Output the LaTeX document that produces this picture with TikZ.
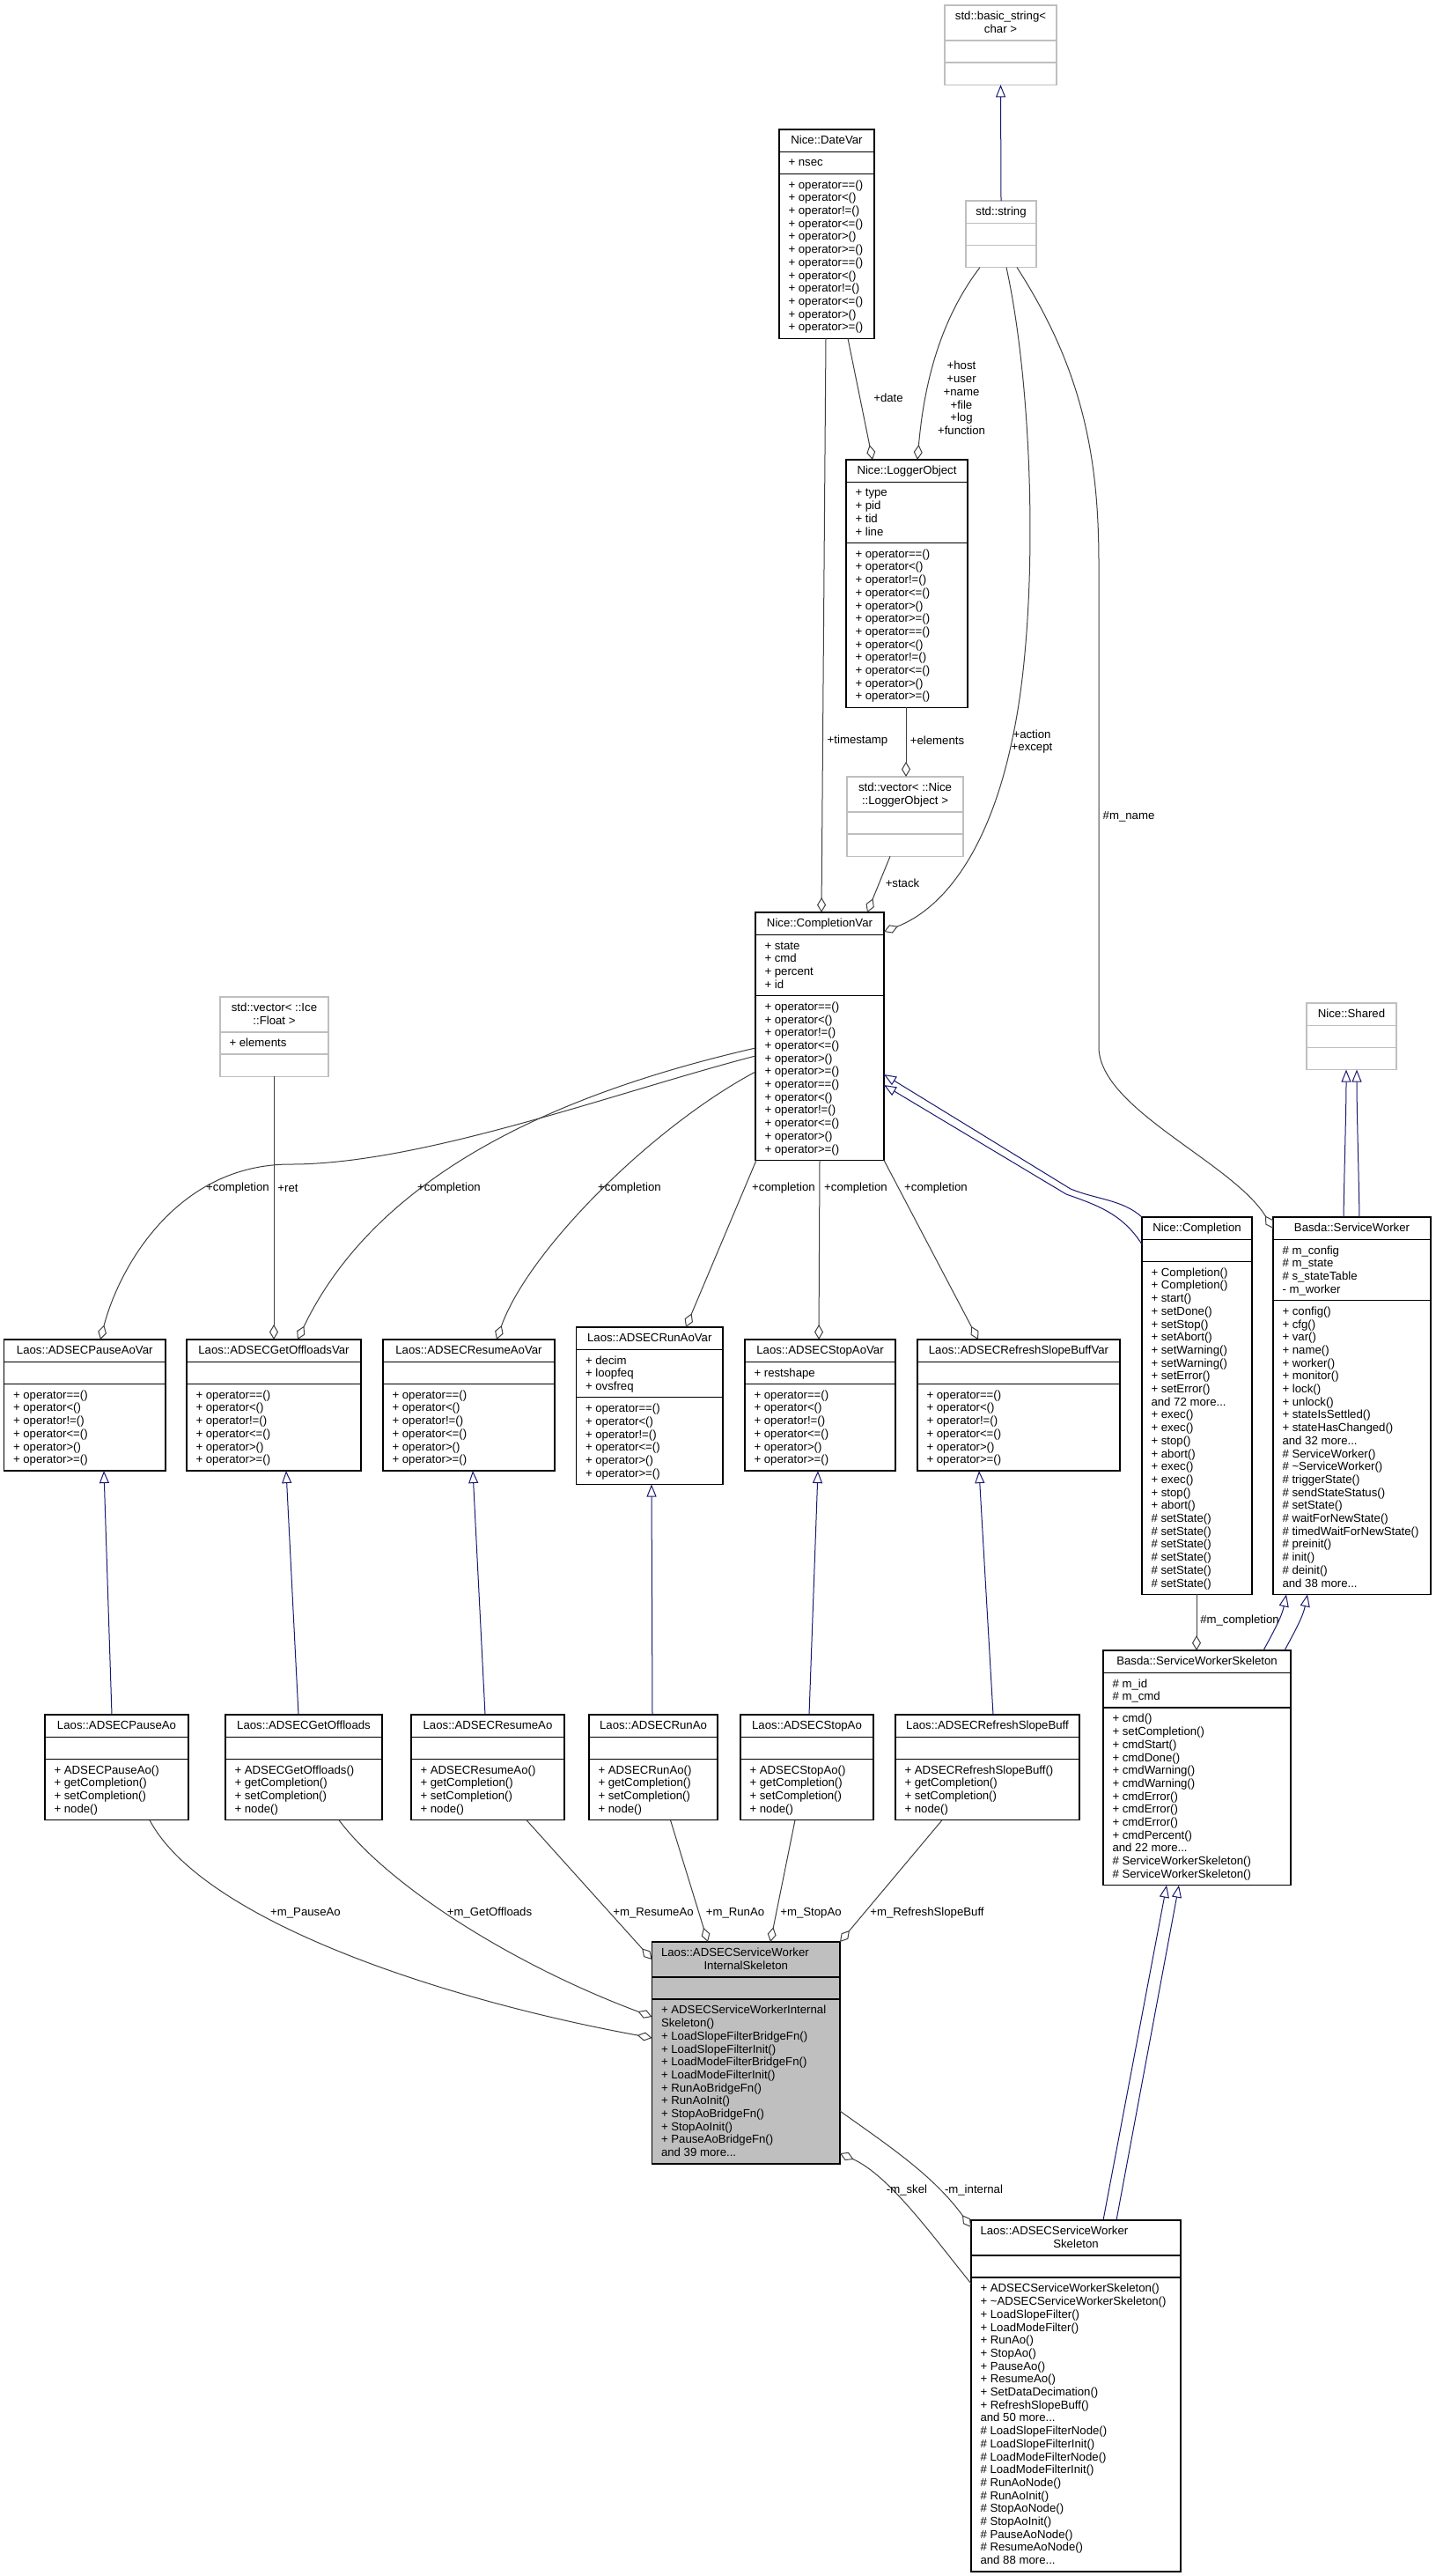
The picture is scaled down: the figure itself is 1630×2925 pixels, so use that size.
\documentclass[tikz,border=0pt]{standalone}
\usepackage{fontspec}
\setmainfont{Liberation Sans}
\usetikzlibrary{arrows.meta}
\definecolor{extgray}{HTML}{BFBFBF}
\definecolor{maingray}{HTML}{BFBFBF}
\definecolor{edgegray}{HTML}{404040}
\definecolor{navy}{HTML}{191970}
\newcommand\umlbox[8]{%
 \pgfmathsetmacro\hT{max(25.2,10.5+14.7*#6)}%
 \pgfmathsetmacro\hA{max(25.2,10.5+14.7*#7)}%
 \pgfmathsetmacro\hM{max(25.2,10.5+14.7*#8)}%
 \pgfmathsetmacro\hH{\hT+\hA+\hM}%
 \node[#2, rectangle, inner sep=0pt, outer sep=0pt, minimum width=#5pt, minimum height=\hH pt, anchor=north west] (#1) at (#3,#4) {};
 \draw[#2, fill=none] ({#3},{#4+\hT}) -- ++(#5,0);
 \draw[#2, fill=none] ({#3},{#4+\hT+\hA}) -- ++(#5,0);
 \node[txt, anchor=north, align=center] (#1-t) at ({#3+#5/2},{#4+6.5}) {\strut\Ttitle};
 \node[txt, anchor=north west, align=left] (#1-a) at ({#3+10.5},{#4+\hT+6.5}) {\strut\Tattr};
 \node[txt, anchor=north west, align=left] (#1-m) at ({#3+10.5},{#4+\hT+\hA+6.5}) {\strut\Tmeth};
}
\begin{document}
\begin{tikzpicture}[x=1pt,y=-1pt,
 txt/.style={inner sep=0pt, outer sep=0pt, font=\fontsize{13.2}{14.7}\selectfont, text=black},
 lbl/.style={txt, align=center},
 cls/.style={draw=black, fill=white, line width=1.3pt},
 ext/.style={draw=extgray, fill=white, line width=1.3pt},
 mainc/.style={draw=black, fill=maingray, line width=1.3pt},
 agg/.style={draw=edgegray, line width=1pt, -{Diamond[open, length=17pt, width=10pt, line width=1pt]}},
 inh/.style={draw=navy, line width=1pt, -{Triangle[open, length=14pt, width=11pt, line width=1pt]}}]
\fill[white] (0,0) rectangle (1630,2925);
\useasboundingbox (0,0) rectangle (1630,2925);
\def\opsTwelve{+ operator==()\\+ operator<()\\+ operator!=()\\+ operator<=()\\+ operator>()\\+ operator>=()\\+ operator==()\\+ operator<()\\+ operator!=()\\+ operator<=()\\+ operator>()\\+ operator>=()}
\def\opsSix{+ operator==()\\+ operator<()\\+ operator!=()\\+ operator<=()\\+ operator>()\\+ operator>=()}
% top classes
\def\Ttitle{std::basic\_string<\\char >}\def\Tattr{}\def\Tmeth{}
\umlbox{basic}{ext}{1073}{6}{127}{2}{0}{0}
\def\Ttitle{std::string}\def\Tattr{}\def\Tmeth{}
\umlbox{str}{ext}{1097}{228}{80}{1}{0}{0}
\def\Ttitle{Nice::DateVar}\def\Tattr{+ nsec}\def\Tmeth{\opsTwelve}
\umlbox{datevar}{cls}{885}{147}{108}{1}{1}{12}
\def\Ttitle{Nice::LoggerObject}\def\Tattr{+ type\\+ pid\\+ tid\\+ line}\def\Tmeth{\opsTwelve}
\umlbox{logger}{cls}{961}{522}{138}{1}{4}{12}
\def\Ttitle{std::vector< ::Nice\\::LoggerObject >}\def\Tattr{}\def\Tmeth{}
\umlbox{veclog}{ext}{962}{882}{132}{2}{0}{0}
\def\Ttitle{std::vector< ::Ice\\::Float >}\def\Tattr{+ elements}\def\Tmeth{}
\umlbox{vecflt}{ext}{250}{1132}{123}{2}{1}{0}
\def\Ttitle{Nice::CompletionVar}\def\Tattr{+ state\\+ cmd\\+ percent\\+ id}\def\Tmeth{\opsTwelve}
\umlbox{cvar}{cls}{858}{1036}{146}{1}{4}{12}
\def\Ttitle{Nice::Shared}\def\Tattr{}\def\Tmeth{}
\umlbox{shared}{ext}{1484}{1139}{102}{1}{0}{0}
\def\Ttitle{Nice::Completion}\def\Tattr{}\def\Tmeth{+ Completion()\\+ Completion()\\+ start()\\+ setDone()\\+ setStop()\\+ setAbort()\\+ setWarning()\\+ setWarning()\\+ setError()\\+ setError()\\and 72 more...\\+ exec()\\+ exec()\\+ stop()\\+ abort()\\+ exec()\\+ exec()\\+ stop()\\+ abort()\\\# setState()\\\# setState()\\\# setState()\\\# setState()\\\# setState()\\\# setState()}
\umlbox{compl}{cls}{1297}{1382}{125}{1}{0}{25}
\def\Ttitle{Basda::ServiceWorker}\def\Tattr{\# m\_config\\\# m\_state\\\# s\_stateTable\\- m\_worker}\def\Tmeth{+ config()\\+ cfg()\\+ var()\\+ name()\\+ worker()\\+ monitor()\\+ lock()\\+ unlock()\\+ stateIsSettled()\\+ stateHasChanged()\\and 32 more...\\\# ServiceWorker()\\\# \textasciitilde ServiceWorker()\\\# triggerState()\\\# sendStateStatus()\\\# setState()\\\# waitForNewState()\\\# timedWaitForNewState()\\\# preinit()\\\# init()\\\# deinit()\\and 38 more...}
\umlbox{sw}{cls}{1446}{1382}{179}{1}{4}{22}
\def\Ttitle{Basda::ServiceWorkerSkeleton}\def\Tattr{\# m\_id\\\# m\_cmd}\def\Tmeth{+ cmd()\\+ setCompletion()\\+ cmdStart()\\+ cmdDone()\\+ cmdWarning()\\+ cmdWarning()\\+ cmdError()\\+ cmdError()\\+ cmdError()\\+ cmdPercent()\\and 22 more...\\\# ServiceWorkerSkeleton()\\\# ServiceWorkerSkeleton()}
\umlbox{sws}{cls}{1253}{1874}{213}{1}{2}{13}
% Var row
\def\Tattr{}\def\Tmeth{\opsSix}
\def\Ttitle{Laos::ADSECPauseAoVar}
\umlbox{pavar}{cls}{4.5}{1521}{183.5}{1}{0}{6}
\def\Ttitle{Laos::ADSECGetOffloadsVar}
\umlbox{govar}{cls}{212}{1521}{198}{1}{0}{6}
\def\Ttitle{Laos::ADSECResumeAoVar}
\umlbox{ravar}{cls}{435}{1521}{195}{1}{0}{6}
\def\Ttitle{Laos::ADSECRunAoVar}\def\Tattr{+ decim\\+ loopfeq\\+ ovsfreq}
\umlbox{runvar}{cls}{654.5}{1507}{166.5}{1}{3}{6}
\def\Ttitle{Laos::ADSECStopAoVar}\def\Tattr{+ restshape}
\umlbox{stvar}{cls}{846}{1521}{171}{1}{1}{6}
\def\Ttitle{Laos::ADSECRefreshSlopeBuffVar}\def\Tattr{}
\umlbox{rfvar}{cls}{1042}{1521}{230}{1}{0}{6}
% Ao row
\def\Tattr{}
\def\Ttitle{Laos::ADSECPauseAo}\def\Tmeth{+ ADSECPauseAo()\\+ getCompletion()\\+ setCompletion()\\+ node()}
\umlbox{pao}{cls}{51}{1947}{163}{1}{0}{4}
\def\Ttitle{Laos::ADSECGetOffloads}\def\Tmeth{+ ADSECGetOffloads()\\+ getCompletion()\\+ setCompletion()\\+ node()}
\umlbox{gof}{cls}{256}{1947}{178}{1}{0}{4}
\def\Ttitle{Laos::ADSECResumeAo}\def\Tmeth{+ ADSECResumeAo()\\+ getCompletion()\\+ setCompletion()\\+ node()}
\umlbox{rao}{cls}{467}{1947}{174}{1}{0}{4}
\def\Ttitle{Laos::ADSECRunAo}\def\Tmeth{+ ADSECRunAo()\\+ getCompletion()\\+ setCompletion()\\+ node()}
\umlbox{run}{cls}{669}{1947}{146}{1}{0}{4}
\def\Ttitle{Laos::ADSECStopAo}\def\Tmeth{+ ADSECStopAo()\\+ getCompletion()\\+ setCompletion()\\+ node()}
\umlbox{sto}{cls}{841}{1947}{151}{1}{0}{4}
\def\Ttitle{Laos::ADSECRefreshSlopeBuff}\def\Tmeth{+ ADSECRefreshSlopeBuff()\\+ getCompletion()\\+ setCompletion()\\+ node()}
\umlbox{rsb}{cls}{1017}{1947}{209}{1}{0}{4}
% main and skeleton
\def\Ttitle{\makebox[192.5pt][l]{Laos::ADSECServiceWorker}\\InternalSkeleton}\def\Tattr{}
\def\Tmeth{+ ADSECServiceWorkerInternal\\Skeleton()\\+ LoadSlopeFilterBridgeFn()\\+ LoadSlopeFilterInit()\\+ LoadModeFilterBridgeFn()\\+ LoadModeFilterInit()\\+ RunAoBridgeFn()\\+ RunAoInit()\\+ StopAoBridgeFn()\\+ StopAoInit()\\+ PauseAoBridgeFn()\\and 39 more...}
\umlbox{internal}{mainc}{740.5}{2205}{213.5}{2}{0}{12}
\def\Ttitle{\makebox[217pt][l]{Laos::ADSECServiceWorker}\\Skeleton}\def\Tattr{}
\def\Tmeth{+ ADSECServiceWorkerSkeleton()\\+ \textasciitilde ADSECServiceWorkerSkeleton()\\+ LoadSlopeFilter()\\+ LoadModeFilter()\\+ RunAo()\\+ StopAo()\\+ PauseAo()\\+ ResumeAo()\\+ SetDataDecimation()\\+ RefreshSlopeBuff()\\and 50 more...\\\# LoadSlopeFilterNode()\\\# LoadSlopeFilterInit()\\\# LoadModeFilterNode()\\\# LoadModeFilterInit()\\\# RunAoNode()\\\# RunAoInit()\\\# StopAoNode()\\\# StopAoInit()\\\# PauseAoNode()\\\# ResumeAoNode()\\and 88 more...}
\umlbox{skel}{cls}{1103}{2521}{238}{2}{0}{22}
% inheritance
\draw[inh] (str.north) -- (basic.south);
\draw[inh] (compl.north west) .. controls (1275,1362) and (1245,1362) .. (1216,1350) -- ([yshift=-184pt]cvar.north east);
\draw[inh] ([yshift=-31pt]compl.north west) .. controls (1275,1378) and (1245,1368) .. (1211,1356) -- ([yshift=-196pt]cvar.north east);
\draw[inh] ([xshift=80pt]sw.north west) .. controls (1527,1320) and (1529,1260) .. ([xshift=45pt]shared.south west);
\draw[inh] ([xshift=98pt]sw.north west) .. controls (1543,1320) and (1541,1260) .. ([xshift=57pt]shared.south west);
\draw[inh] ([xshift=182pt]sws.north west) .. controls (1448,1850) and (1456,1835) .. ([xshift=15pt]sw.south west);
\draw[inh] ([xshift=206pt]sws.north west) .. controls (1472,1850) and (1480,1835) .. ([xshift=39pt]sw.south west);
\draw[inh] ([xshift=150pt]skel.north west) -- ([xshift=72pt]sws.south west);
\draw[inh] ([xshift=165pt]skel.north west) -- ([xshift=86pt]sws.south west);
\draw[inh] ([xshift=76pt]pao.north west) -- ([xshift=113.5pt]pavar.south west);
\draw[inh] ([xshift=83pt]gof.north west) -- ([xshift=113pt]govar.south west);
\draw[inh] ([xshift=84pt]rao.north west) -- ([xshift=102pt]ravar.south west);
\draw[inh] ([xshift=72pt]run.north west) -- ([xshift=85.5pt]runvar.south west);
\draw[inh] ([xshift=78pt]sto.north west) -- ([xshift=83pt]stvar.south west);
\draw[inh] ([xshift=111pt]rsb.north west) -- ([xshift=70pt]rfvar.south west);
% aggregation
\draw[agg] ([xshift=78pt]datevar.south west) -- ([xshift=30pt]logger.north west);
\draw[agg] ([xshift=16pt]str.south west) .. controls (1070,360) and (1050,430) .. ([xshift=81pt]logger.north west);
\draw[agg] ([xshift=46pt]str.south west) .. controls (1175,450) and (1180,700) .. (1150,838) .. controls (1125,960) and (1075,1030) .. ([yshift=-22pt]cvar.north east);
\draw[agg] ([xshift=58pt]str.south west) .. controls (1230,420) and (1248,520) .. (1248,640) -- (1248,1190) .. controls (1250,1260) and (1400,1320) .. ([yshift=-13pt]sw.north west);
\draw[agg] ([xshift=53pt]datevar.south west) -- ([xshift=75pt]cvar.north west);
\draw[agg] ([xshift=68pt]logger.south west) -- ([xshift=67pt]veclog.north west);
\draw[agg] ([xshift=49pt]veclog.south west) -- ([xshift=127pt]cvar.north west);
\draw[agg] ([xshift=61pt]vecflt.south west) -- ([xshift=99pt]govar.north west);
\draw[agg] ([yshift=-163pt]cvar.north west) .. controls (700,1240) and (480,1322) .. (330,1322) .. controls (200,1322) and (135,1440) .. ([xshift=109.5pt]pavar.north west);
\draw[agg] ([yshift=-154pt]cvar.north west) .. controls (640,1240) and (430,1330) .. ([xshift=126pt]govar.north west);
\draw[agg] ([yshift=-181pt]cvar.north west) .. controls (740,1280) and (600,1420) .. ([xshift=129pt]ravar.north west);
\draw[agg] ([xshift=1pt]cvar.south west) -- ([xshift=124.5pt]runvar.north west);
\draw[agg] ([xshift=73pt]cvar.south west) -- ([xshift=84pt]stvar.north west);
\draw[agg] (cvar.south east) -- ([xshift=69pt]rfvar.north west);
\draw[agg] ([xshift=62pt]compl.south west) -- ([xshift=106pt]sws.north west);
\draw[agg] ([xshift=119pt]pao.south west) .. controls (230,2180) and (500,2270) .. ([yshift=-109pt]internal.north west);
\draw[agg] ([xshift=129pt]gof.south west) .. controls (440,2140) and (580,2230) .. ([yshift=-85pt]internal.north west);
\draw[agg] ([xshift=131pt]rao.south west) -- ([yshift=-20pt]internal.north west);
\draw[agg] ([xshift=92.5pt]run.south west) -- ([xshift=63.5pt]internal.north west);
\draw[agg] ([xshift=62pt]sto.south west) -- ([xshift=134.5pt]internal.north west);
\draw[agg] ([xshift=53pt]rsb.south west) -- (internal.north east);
\draw[agg] ([yshift=-192pt]internal.north east) .. controls (1010,2437) and (1060,2470) .. ([yshift=-8pt]skel.north west);
\draw[agg] ([yshift=-72pt]skel.north west) .. controls (1060,2540) and (1010,2470) .. ([yshift=-240pt]internal.north east);
% labels
\node[lbl] (Ldate) at (1009,452) {+date};
\node[lbl] (Lhost) at (1092,452) {+host\\+user\\+name\\+file\\+log\\+function};
\node[lbl] (Lts) at (974,841) {+timestamp};
\node[lbl] (Lel) at (1064.5,841) {+elements};
\node[lbl] (Lact) at (1172,842) {+action\\+except};
\node[lbl] (Lmname) at (1282,927) {\#m\_name};
\node[lbl] (Lstack) at (1025,1003) {+stack};
\node[lbl] (Lc1) at (270,1349) {+completion};
\node[lbl] (Lret) at (327,1349) {+ret};
\node[lbl] (Lc2) at (510,1349) {+completion};
\node[lbl] (Lc3) at (715,1349) {+completion};
\node[lbl] (Lc4) at (890,1349) {+completion};
\node[lbl] (Lc5) at (972,1349) {+completion};
\node[lbl] (Lc6) at (1063,1349) {+completion};
\node[lbl] (Lmc) at (1408,1840) {\#m\_completion};
\node[lbl] (Lpa) at (347,2172) {+m\_PauseAo};
\node[lbl] (Lgo) at (556,2172) {+m\_GetOffloads};
\node[lbl] (Lra) at (742,2172) {+m\_ResumeAo};
\node[lbl] (Lru) at (835,2172) {+m\_RunAo};
\node[lbl] (Lst) at (921,2172) {+m\_StopAo};
\node[lbl] (Lrf) at (1053,2172) {+m\_RefreshSlopeBuff};
\node[lbl] (Lskel) at (1030,2487) {-m\_skel};
\node[lbl] (Lint) at (1106,2487) {-m\_internal};
\end{tikzpicture}
\end{document}
